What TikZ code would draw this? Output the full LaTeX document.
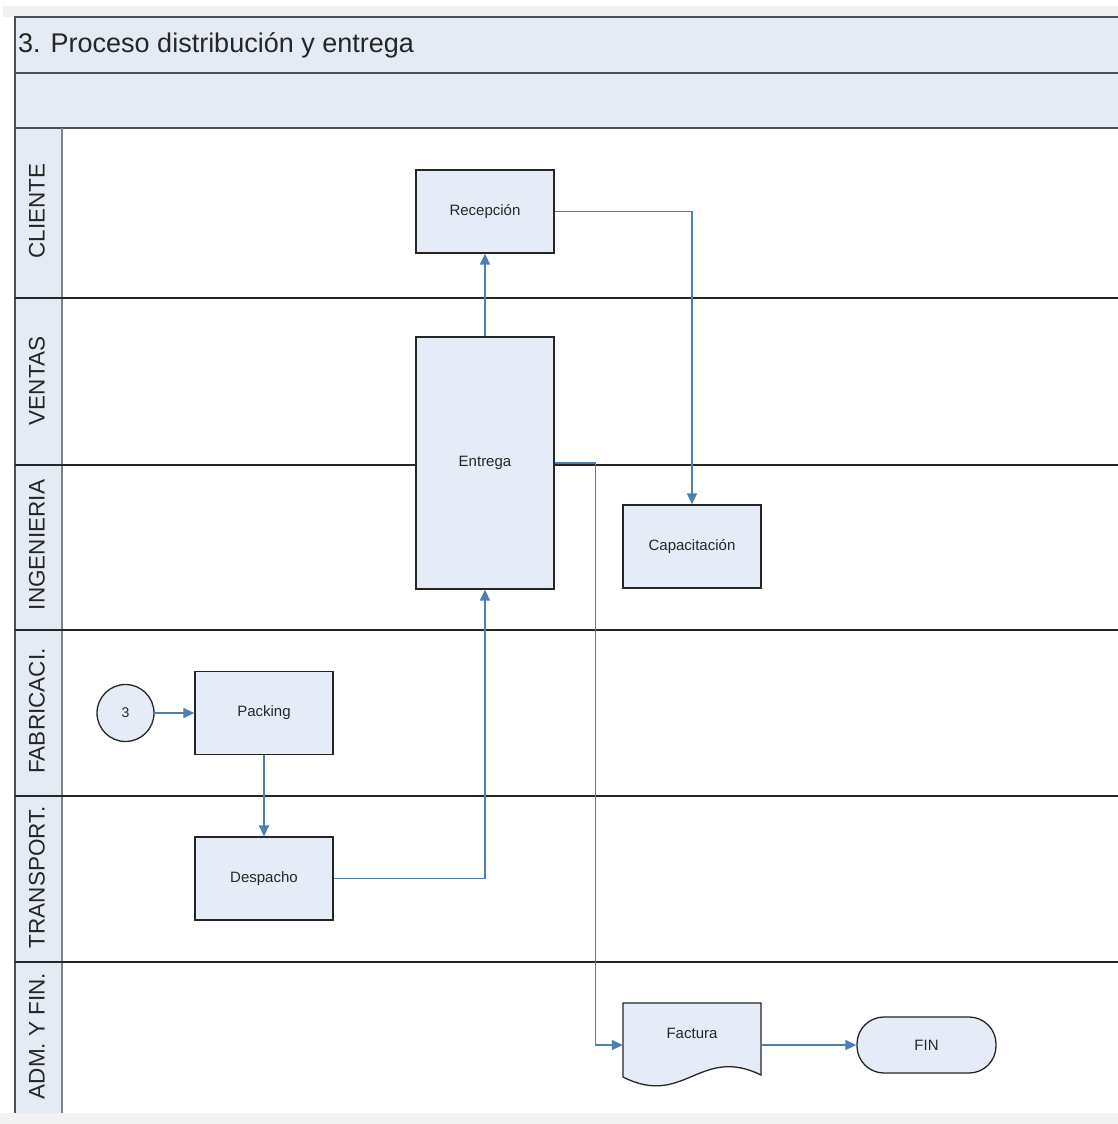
\documentclass[tikz,border=0pt]{standalone}
\usepackage{fontspec}
\setmainfont{Liberation Sans}
\usetikzlibrary{arrows.meta,calc}
\definecolor{bandfill}{HTML}{E4EBF5}
\definecolor{boxfill}{HTML}{E6ECF7}
\definecolor{flow}{HTML}{4F7DB8}
\definecolor{frameline}{HTML}{4A4F5A}
\definecolor{ink}{HTML}{262626}

\begin{document}
\begin{tikzpicture}[x=1pt,y=-1pt,
  stepbox/.style={draw=ink, line width=1.3pt, fill=boxfill,
    minimum width=138pt, minimum height=83pt, inner sep=0pt,
    font=\fontsize{15}{18}\selectfont, text=ink},
  conn/.style={draw=flow, line width=1.5pt, -{Triangle[length=11pt,width=10pt]}},
  lanelabel/.style={rotate=90, font=\fontsize{22.5}{26}\selectfont, text=ink, inner sep=0pt},
  laneline/.style={draw=black!85, line width=1.2pt}
]
\useasboundingbox (0,0) rectangle (1118,1124);
\fill[white] (0,0) rectangle (1118,1124);
% page edges
\fill[black!6] (3,6) rectangle (1118,17);
% pool header, title band and lane label column
\fill[bandfill] (15,17) rectangle (1118,128);
\fill[bandfill] (15,128) rectangle (62,1113);
\draw[frameline, line width=2pt] (1118,17) -- (15,17) -- (15,1113);
\draw[frameline, line width=2.5pt] (15,73) -- (1118,73);
\draw[frameline, line width=2pt] (15,128) -- (1118,128);
\draw[black!50, line width=2pt] (62,128) -- (62,1113);
% lane separators
\foreach \yy in {298,465,630,796,962}
  \draw[laneline] (15,\yy) -- (1118,\yy);
\fill[black!5] (0,1113) rectangle (1118,1124);

\node[anchor=west, font=\fontsize{27}{32}\selectfont, text=ink, inner sep=0pt] (title) at (18,45) {3. Proceso distribución y entrega};

% lane names
\node[lanelabel] (lcli) at (37,211) {CLIENTE};
\node[lanelabel] (lven) at (37,381) {VENTAS};
\node[lanelabel] (ling) at (37,545) {INGENIERIA};
\node[lanelabel] (lfab) at (37,711) {FABRICACI.};
\node[lanelabel] (ltra) at (37,877) {TRANSPORT.};
\node[lanelabel] (ladm) at (37,1036) {ADM. Y FIN.};

% process steps
\node[stepbox] (rec) at (485,211.5) {Recepción};
\node[stepbox, minimum height=252pt] (ent) at (485,463) {Entrega};
\node[stepbox] (cap) at (692,546.5) {Capacitación};
\node[draw=ink, line width=1.3pt, fill=boxfill, circle, minimum size=57pt, inner sep=0pt,
  font=\fontsize{14}{16}\selectfont, text=ink] (c3) at (125.5,713) {3};
\node[stepbox] (pack) at (264,713) {Packing};
\node[stepbox] (desp) at (264,878.5) {Despacho};

% document shape for the invoice
\node[minimum width=138pt, minimum height=84pt, inner sep=0pt] (fac) at (692,1045) {};
\draw[ink, line width=1.3pt, fill=boxfill]
  (623,1003) -- (761,1003) -- (761,1075)
  .. controls (700,1045) and (684,1108) .. (623,1077) -- cycle;
\node[font=\fontsize{15}{18}\selectfont, text=ink] (factxt) at (692,1033) {Factura};

\node[draw=ink, line width=1.3pt, fill=boxfill, rounded corners=27pt,
  minimum width=139pt, minimum height=56pt, inner sep=0pt,
  font=\fontsize{15}{18}\selectfont, text=ink] (fin) at (926.5,1045) {FIN};

% flow
\draw[conn] (c3.east) -- (c3.east -| pack.west);
\draw[conn] (pack.south) -- (desp.north);
\draw[conn] (desp.east) -| (ent.south);
\draw[conn] (ent.north) -- (rec.south);
\draw[conn] (rec.east) -| (cap.north);
\draw[conn] (ent.east) -- ++(41,0) |- (fac.west);
\draw[conn] (fac.east) -- (fin.west);
\end{tikzpicture}
\end{document}
